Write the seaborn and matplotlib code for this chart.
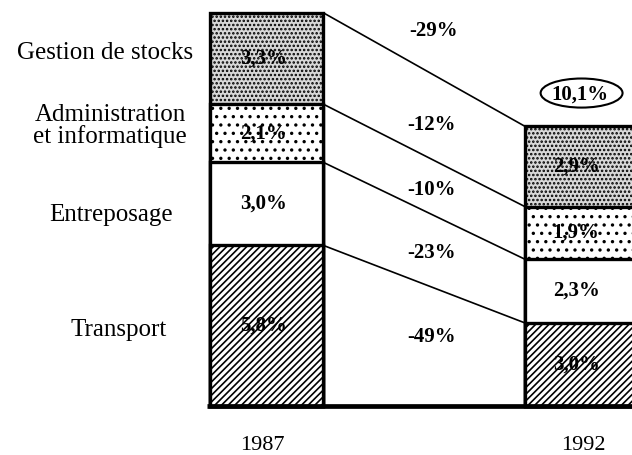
import numpy as np
import pandas as pd
import matplotlib
matplotlib.use("Agg")
import matplotlib.pyplot as plt
import seaborn as sns
from matplotlib.patches import Ellipse

years = ["1987", "1992"]
categories = ["Transport", "Entreposage", "Administration\net informatique", "Gestion de stocks"]
share_1987 = [5.8, 3.0, 2.1, 3.3]
share_1992 = [3.0, 2.3, 1.9, 2.9]
changes = ["-49%", "-23%", "-10%", "-12%"]
total_change = "-29%"
total_1992_label = "10,1%"

hatches = ["/////", "", "..", "...."]
facecolors = ["white", "white", "white", "#d8d8d8"]

sns.set_theme(style="white")
plt.rcParams["font.family"] = ["Liberation Serif", "DejaVu Serif"]
plt.rcParams["text.color"] = "black"
plt.rcParams["hatch.linewidth"] = 1.2

fig = plt.figure(figsize=(6.32, 4.55), dpi=100)
ax = fig.add_axes([0, 0, 1, 1])

df = pd.DataFrame({
    "year": np.repeat(years, len(categories)),
    "category": categories * 2,
    "share": share_1987 + share_1992,
})
df["cum"] = df.groupby("year")["share"].cumsum()
df["mid"] = df["cum"] - df["share"] / 2

width = 0.36
for i in reversed(range(len(categories))):
    sub = df[df["category"] == categories[i]]
    sns.barplot(data=sub, x="year", y="cum", order=years, color=facecolors[i],
                saturation=1, width=width, edgecolor="black", linewidth=2.4,
                hatch=hatches[i], errorbar=None, ax=ax, zorder=2)

# connecting lines
c87 = df[df.year == "1987"]["cum"].values
c92 = df[df.year == "1992"]["cum"].values
for a, b in zip(c87, c92):
    ax.plot([width / 2, 1 - width / 2], [a, b], color="black", lw=1.2, zorder=3)

# baseline
ax.plot([-width / 2 - 0.01, 1.3], [0, 0], color="black", lw=3.4, zorder=4,
        solid_capstyle="butt")

# in-bar labels
bold = dict(fontsize=15, fontweight="bold", ha="center", va="center", zorder=5,
            color="black")
for _, r in df.iterrows():
    xpos = -0.01 if r["year"] == "1987" else 0.983
    ax.text(xpos, r["mid"], f"{r['share']:.1f}%".replace(".", ","), **bold)

# change labels
change_y = [2.49, 5.52, 7.80, 10.14]
for lab, yy in zip(changes, change_y):
    ax.text(0.525, yy, lab, **bold)
ax.text(0.53, 13.54, total_change, **bold)

# total 1992 ellipse
ax.text(0.995, 11.25, total_1992_label, **bold)
ax.add_patch(Ellipse((1.0, 11.3), 0.26, 1.05, fill=False, edgecolor="black",
                     lw=1.5, zorder=5))

# left category labels
lab_kw = dict(fontsize=18, va="center", color="black")
ax.text(-0.233, 12.74, categories[3], ha="right", **lab_kw)
ax.text(-0.497, 10.1, categories[2], ha="center", multialignment="center",
        linespacing=0.95, **lab_kw)
ax.text(-0.494, 6.9, categories[1], ha="center", **lab_kw)
ax.text(-0.471, 2.75, categories[0], ha="center", **lab_kw)

# year labels
ax.text(-0.014, -1.42, years[0], fontsize=16, ha="center", va="center", color="black")
ax.text(1.005, -1.42, years[1], fontsize=16, ha="center", va="center", color="black")

ax.set_xlim(-0.846, 1.160)
ax.set_ylim(-1.77, 14.66)
ax.axis("off")

fig.savefig("out.png", dpi=100)
